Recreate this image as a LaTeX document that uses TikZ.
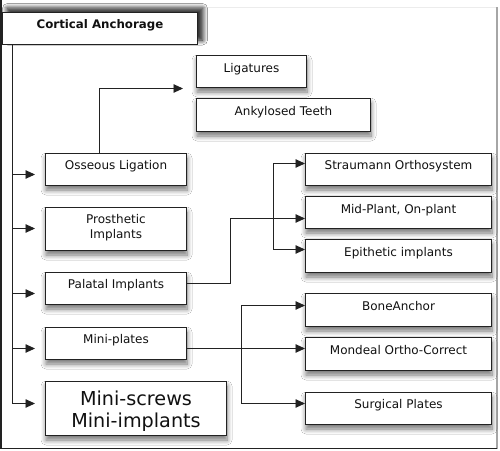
\documentclass[tikz,border=0pt]{standalone}
\usepackage{fontspec}
\setmainfont{DejaVu Sans}
\usetikzlibrary{arrows.meta,shadows.blur}
\definecolor{ink}{HTML}{222222}
\definecolor{txt}{HTML}{111111}
\tikzset{
  box/.style={draw=ink, line width=1pt, fill=white, anchor=north west,
    inner xsep=2pt, inner ysep=0pt, text=txt,
    font=\fontsize{12}{15}\selectfont,
    blur shadow={shadow xshift=0.5pt, shadow yshift=-4.5pt, shadow blur radius=5pt, shadow blur steps=8, shadow opacity=55}},
  conn/.style={draw=ink, line width=0.9pt},
  arr/.style={conn, -{Triangle[length=9.5pt,width=8.5pt]}},
}
\begin{document}
\begin{tikzpicture}[x=1pt,y=-1pt]
\useasboundingbox (0,0) rectangle (500,450);
\fill[white] (0,0) rectangle (500,450);
% frame
\draw[draw=gray!15, line width=1pt] (1,7) -- (497,7);
\draw[draw=gray!70, line width=1.2pt] (497,7) -- (497,448.5);
\draw[draw=ink, line width=1.4pt] (1,0) -- (1,448.5) -- (497,448.5);

% nodes
\node[box, minimum width=195pt, text height=16pt, text depth=15.5pt,
  font=\fontsize{11.8}{14}\selectfont\bfseries,
  blur shadow={shadow xshift=5pt, shadow yshift=4pt, shadow blur radius=5pt, shadow blur steps=8, shadow opacity=60}]
  (cort) at (2,12) {Cortical Anchorage};
\node[box, minimum width=110pt, text height=16.7pt, text depth=15.3pt] (lig) at (196,55) {Ligatures};
\node[box, minimum width=174pt, text height=17pt, text depth=16pt] (ank) at (196,98) {Ankylosed Teeth};
\node[box, minimum width=141pt, text height=16.3pt, text depth=15.7pt] (oss) at (45,153) {Osseous Ligation};
\node[box, minimum width=141pt, text height=16.3pt, text depth=26.7pt] (pros) at (45,207)
  {\begin{tabular}[t]{@{}c@{}}Prosthetic\\Implants\end{tabular}};
\node[box, minimum width=141pt, text height=16pt, text depth=16pt] (pal) at (45,272) {Palatal Implants};
\node[box, minimum width=141pt, text height=15.7pt, text depth=16.3pt] (mp) at (45,327) {Mini-plates};
\node[box, minimum width=181pt, text height=24pt, text depth=30pt,
  font=\fontsize{19.2}{21.7}\selectfont] (ms) at (45,381)
  {\begin{tabular}[t]{@{}c@{}}Mini-screws\\Mini-implants\end{tabular}};
\node[box, minimum width=186pt, text height=16pt, text depth=16pt] (strau) at (305,153) {Straumann Orthosystem};
\node[box, minimum width=186pt, text height=16.7pt, text depth=15.3pt] (mid) at (305,196) {Mid-Plant, On-plant};
\node[box, minimum width=186pt, text height=17pt, text depth=16pt] (epi) at (305,239) {Epithetic implants};
\node[box, minimum width=186pt, text height=17pt, text depth=16pt] (bone) at (305,293) {BoneAnchor};
\node[box, minimum width=186pt, text height=17pt, text depth=16pt] (mond) at (305,337) {Mondeal Ortho-Correct};
\node[box, minimum width=186pt, text height=16pt, text depth=16pt] (surg) at (305,392) {Surgical Plates};

% trunk and branches
\foreach \n/\dy in {oss/-5pt, pros/0.5pt, pal/-5pt, mp/-5pt, ms/5pt}{
  \draw[arr, shorten >=10pt] ([xshift=10.5pt]cort.south west) |- ([yshift=\dy]\n.west);
}

% osseous ligation to ligatures / ankylosed teeth
\coordinate (ostip) at ([yshift=-0.5pt]lig.south west);
\draw[arr, shorten >=13pt] ([xshift=-16.5pt]oss.north) |- (ostip);

% palatal implants group
\draw[arr] ([yshift=5pt]pal.east) -- ++(43,0) |- ([yshift=-6pt]mid.west);
\draw[arr] ([xshift=-32pt,yshift=6.5pt]epi.west) |- ([yshift=6pt]strau.west);
\draw[arr] ([xshift=-32pt,yshift=6.5pt]epi.west) -- ([yshift=6.5pt]epi.west);

% mini-plates group
\draw[arr] ([yshift=-5pt]mp.east) -- ([yshift=-5pt]mp.east -| mond.west);
\draw[arr] ([xshift=-64pt,yshift=5pt]surg.west) |- ([yshift=4.5pt]bone.west);
\draw[arr] ([xshift=-64pt,yshift=5pt]surg.west) -- ([yshift=5pt]surg.west);
\end{tikzpicture}
\end{document}
